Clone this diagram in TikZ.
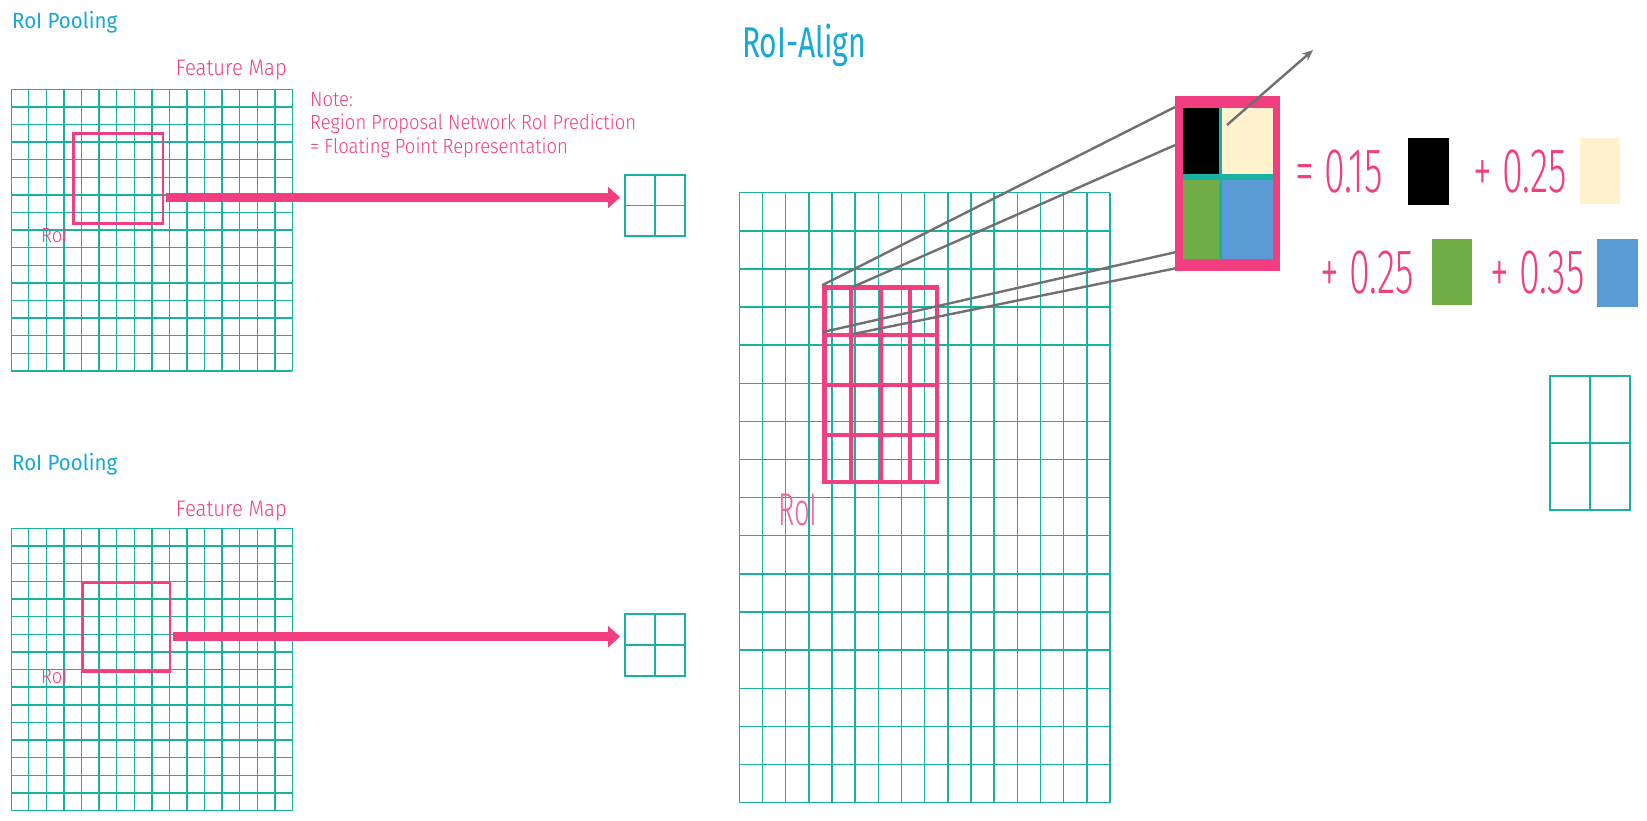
\documentclass[tikz,border=0pt]{standalone}
\usepackage{fontspec}
\usetikzlibrary{positioning, arrows.meta, calc}
\newfontfamily\lblfont{Fira Sans Light}[FakeStretch=0.9]
\newfontfamily\numfont{Fira Sans Light}[FakeStretch=0.6]
\newfontfamily\ttlfont{Fira Sans}[FakeStretch=0.93]
\newfontfamily\bigttlfont{Fira Sans}[FakeStretch=0.7]
\definecolor{rateal}{RGB}{24,178,160}
\definecolor{rapink}{RGB}{240,62,128}
\definecolor{racyan}{RGB}{22,168,214}
\definecolor{ragray}{RGB}{112,112,112}
\definecolor{rabeige}{RGB}{255,242,204}
\definecolor{ragreen}{RGB}{112,173,71}
\definecolor{rablue}{RGB}{91,155,213}

% cell grid: left, top, columns, rows, cell width, cell height
\newcommand\cellgrid[6]{%
  \foreach \i in {0,...,#3}
    \draw[gridline] ({#1+\i*#5},{-#2}) -- ++(0,{-#4*#6});
  \foreach \j in {0,...,#4}
    \draw[gridline] (#1,{-#2-\j*#6}) -- ++({#3*#5},0);
}

\begin{document}
\begin{tikzpicture}[x=1pt, y=1pt,
    gridline/.style={draw=rateal, line width=1.4pt},
    roibox/.style={draw=rapink, line width=2.6pt, inner sep=0pt, anchor=north west},
    binline/.style={draw=rapink, line width=4pt},
    poolbox/.style={draw=rateal, line width=1.6pt, minimum width=60pt,
                    minimum height=61pt, inner sep=0pt, anchor=north west},
    poolarrow/.style={rapink, line width=9pt, -{Triangle[length=12pt, width=21pt]},
                      shorten >=4pt},
    lbl/.style={text=rapink, font=\lblfont\fontsize{20.5}{23.5}\selectfont,
                inner sep=0pt, align=left},
    ttl/.style={text=racyan, font=\ttlfont\fontsize{22}{22}\selectfont,
                inner sep=0pt, anchor=base west},
    weight/.style={text=rapink, font=\numfont\fontsize{63}{63}\selectfont,
                   inner sep=0pt, anchor=base west},
    wsq/.style={minimum width=41pt, minimum height=67pt, inner sep=0pt, anchor=north west},
    cell/.style={inner sep=0pt, anchor=north west},
    probe/.style={draw=ragray, line width=2.4pt}]
  \path[fill=white, use as bounding box] (0,0) rectangle (1647,-821);

  % upper RoI pooling
  \node[ttl] (ttlA) at (12,-28.3) {RoI Pooling};
  \cellgrid{11.2}{89.3}{16}{16}{17.575}{17.6}
  \node[inner sep=0pt, minimum width=281.2pt, minimum height=281.6pt,
        anchor=north west] (fmapA) at (11.2,-89.3) {};
  \node[lbl, font=\lblfont\fontsize{22.5}{23.5}\selectfont, anchor=base east]
        (fmlblA) at (287,-76) {Feature Map};
  \node[roibox, minimum width=89.3pt, minimum height=90.3pt] (roiA) at (72.3,-132) {};
  \node[lbl, anchor=base west] (roilblA) at (41,-243) {RoI};
  \node[lbl, anchor=north west] (note) at (310,-92)
        {Note:\\Region Proposal Network RoI Prediction\\= Floating Point Representation};
  \coordinate (arrA) at (166,-197.5);
  \node[poolbox] (outA) at (624,-174) {};
  \draw[poolarrow] (arrA) -- (arrA -| outA.west);
  \draw[gridline] (outA.north) -- (outA.south) (outA.west) -- (outA.east);

  % lower RoI pooling
  \node[ttl] (ttlB) at (12,-470.7) {RoI Pooling};
  \cellgrid{11.2}{528.3}{16}{16}{17.575}{17.65}
  \node[inner sep=0pt, minimum width=281.2pt, minimum height=282.4pt,
        anchor=north west] (fmapB) at (11.2,-528.3) {};
  \node[lbl, font=\lblfont\fontsize{22.5}{23.5}\selectfont, anchor=base east]
        (fmlblB) at (287,-516) {Feature Map};
  \node[roibox, minimum width=87.1pt, minimum height=88.3pt] (roiB) at (81.7,-581.7) {};
  \node[lbl, anchor=base west] (roilblB) at (41,-683) {RoI};
  \coordinate (arrB) at (173,-636.7);
  \node[poolbox, minimum height=62pt] (outB) at (624,-613) {};
  \draw[poolarrow] (arrB) -- (arrB -| outB.west);
  \draw[gridline] (outB.north) -- (outB.south) (outB.west) -- (outB.east);

  % RoI align
  \node[ttl, font=\bigttlfont\fontsize{43}{43}\selectfont] (ttlC) at (742,-57.7) {RoI-Align};
  \cellgrid{739.3}{192.7}{16}{16}{23.17}{38.12}
  \node[draw=rapink, line width=4.5pt, minimum width=112.6pt, minimum height=194.6pt,
        inner sep=0pt, anchor=north west] (aroi) at (822.2,-285.2) {};
  \foreach \f in {0.25,0.5,0.75} {
    \draw[binline] ($(aroi.north west)!\f!(aroi.north east)$) -- ($(aroi.south west)!\f!(aroi.south east)$);
    \draw[binline] ($(aroi.north west)!\f!(aroi.south west)$) -- ($(aroi.north east)!\f!(aroi.south east)$);
  }
  \node[lbl, text=rapink!80, font=\numfont\fontsize{46}{46}\selectfont, anchor=base west]
        (roilblC) at (778,-525) {RoI};
  \coordinate (s1) at (aroi.north west);
  \coordinate (s2) at ([shift={(30,-2)}]aroi.north west);
  \coordinate (s3) at ([shift={(0,-47)}]aroi.north west);
  \coordinate (s4) at ([shift={(30,-49)}]aroi.north west);

  % magnified bin
  \node[fill=rapink, minimum width=105pt, minimum height=175pt, inner sep=0pt,
        anchor=north west] (zoom) at (1175,-96) {};
  \fill[rateal] (1183,-108) rectangle (1273,-259);
  \node[cell, fill=black, minimum width=36pt, minimum height=66pt] (cBlack) at (1183,-108) {};
  \node[cell, fill=rabeige, minimum width=51pt, minimum height=66pt] (cBeige) at (1222,-108) {};
  \node[cell, fill=ragreen, minimum width=36pt, minimum height=79pt] (cGreen) at (1183,-180) {};
  \node[cell, fill=rablue, minimum width=51pt, minimum height=79pt] (cBlue) at (1222,-180) {};

  \draw[probe] (s1) -- ($(zoom.north west)!0.063!(zoom.south west)$);
  \draw[probe] (s2) -- ($(zoom.north west)!0.28!(zoom.south west)$);
  \draw[probe] (s3) -- ($(zoom.north west)!0.891!(zoom.south west)$);
  \draw[probe] (s4) -- ($(zoom.north west)!0.983!(zoom.south west)$);
  \coordinate (tip) at (1313,-50);
  \draw[probe, -{Stealth[length=11pt, width=9pt]}] ([shift={(5,-17)}]cBeige.north west) -- (tip);

  % weighted sum
  \node[weight] (w1) at (1295,-193) {= 0.15};
  \node[wsq, fill=black] (q1) at (1408,-138) {};
  \node[weight] (w2) at (1473,-193) {+ 0.25};
  \node[wsq, fill=rabeige, minimum width=40pt, minimum height=66pt] (q2) at (1580,-138) {};
  \node[weight] (w3) at (1320,-293) {+ 0.25};
  \node[wsq, fill=ragreen, minimum width=40pt, minimum height=66pt] (q3) at (1432,-239) {};
  \node[weight] (w4) at (1490,-293) {+ 0.35};
  \node[wsq, fill=rablue, minimum height=68pt] (q4) at (1597,-239) {};

  % aligned output
  \node[poolbox, minimum width=80pt, minimum height=134pt] (outC) at (1549,-375) {};
  \draw[gridline] (outC.north) -- (outC.south) (outC.west) -- (outC.east);
\end{tikzpicture}
\end{document}
